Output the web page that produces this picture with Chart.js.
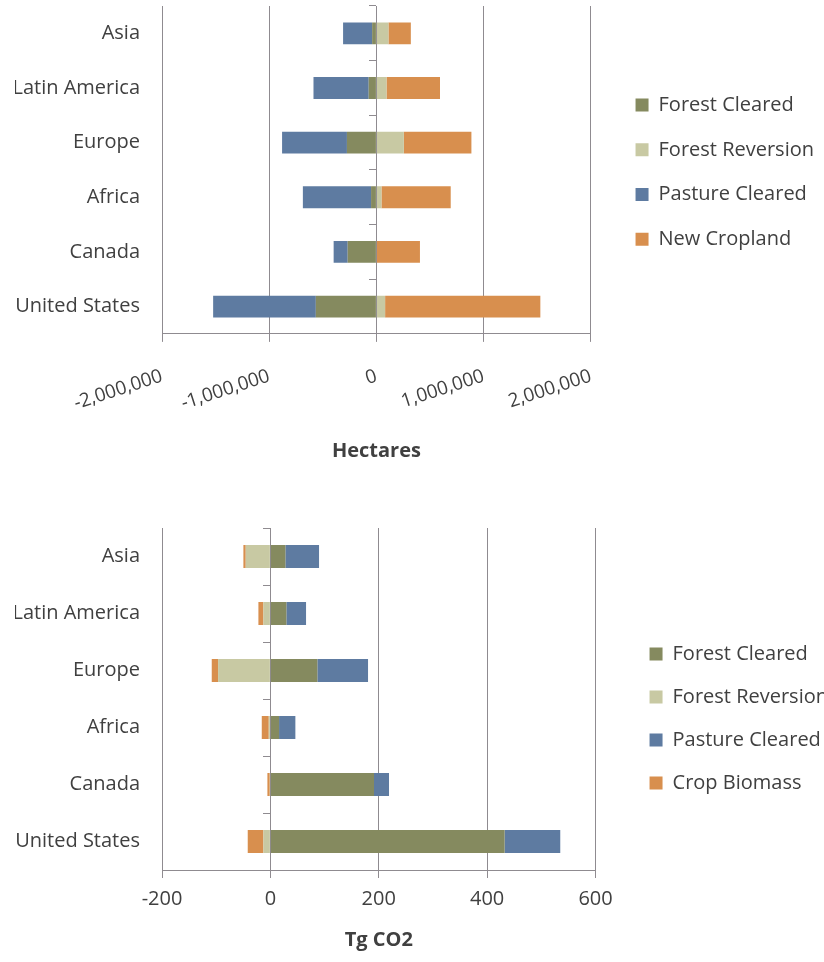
<!DOCTYPE html>
<html>
<head>
<meta charset="utf-8">
<script src="https://cdn.jsdelivr.net/npm/chart.js@4"></script>
<style>
  html, body { margin: 0; padding: 0; background: #fff; overflow: hidden; }
  canvas { display: block; }
</style>
</head>
<body>
<canvas id="areaChart" width="824" height="470"></canvas>
<canvas id="carbonChart" width="838" height="492"></canvas>
<script>
// categories, top to bottom
const regions = ["Asia", "Latin America", "Europe", "Africa", "Canada", "United States"];

// Land use change, hectares
const haForestCleared   = [-40000, -72000, -275000, -50000, -268000, -565000];
const haForestReversion = [112000, 94000, 256000, 47000, 0, 81000];
const haPastureCleared  = [-271000, -515000, -605000, -636000, -131000, -958000];
const haNewCropland     = [209000, 499000, 630000, 646000, 406000, 1448000];
const hectareTicks = [-2000000, -1000000, 0, 1000000, 2000000];

// Emissions, Tg CO2
const co2ForestCleared   = [27.7, 29.5, 86.7, 16, 191.2, 432.2];
const co2ForestReversion = [-45.5, -12.9, -96.5, -3, -1.2, -12.9];
const co2PastureCleared  = [62.1, 36.3, 93.5, 30.1, 27.7, 102.7];
const co2CropBiomass     = [-4.3, -9.2, -11.7, -12.9, -4.3, -28.9];
const co2Ticks = [-200, 0, 200, 400, 600];

const OLIVE = "#858a5f", PALE = "#c8c9a3", BLUE = "#5e7ba1", ORANGE = "#d88f4e";
const GRID = "#8f8b90";

Chart.defaults.font.family = '"Open Sans", sans-serif';
Chart.defaults.color = "#404040";

function bars(label, data, color) {
  return {
    label: label,
    data: data,
    backgroundColor: color,
    borderWidth: 0,
    barPercentage: 0.4,
    categoryPercentage: 1,
    xAxisID: "x",
    yAxisID: "y"
  };
}

// y axis: region names on the left, tick marks along the zero line, spacer before legend
function yScales(gap) {
  return {
    y: {
      stacked: true,
      grid: { display: false, drawTicks: false },
      border: { display: false },
      ticks: { padding: 22, font: { size: 20 } },
      afterFit: function (s) {
        s.width = 147;
        s.paddingTop = 0;
        s.paddingBottom = 0;
      }
    },
    zeroAxis: {
      type: "category",
      axis: "y",
      labels: regions,
      position: { x: 0 },
      offset: true,
      grid: { drawOnChartArea: false, tickLength: 7, color: GRID, offset: true },
      border: { display: false },
      ticks: { display: false }
    },
    spacer: {
      type: "linear",
      position: "right",
      grid: { display: false, drawTicks: false },
      border: { display: false },
      ticks: { display: false },
      afterFit: function (s) { s.width = gap; }
    }
  };
}

function legendOpts(spacing, offset) {
  return {
    position: "right",
    align: "start",
    maxWidth: 320,
    title: { display: true, text: "", padding: { top: offset, bottom: 0 } },
    labels: { boxWidth: 13, boxHeight: 13, padding: spacing, font: { size: 20 } }
  };
}

new Chart(document.getElementById("areaChart"), {
  type: "bar",
  data: {
    labels: regions,
    datasets: [
      bars("Forest Cleared", haForestCleared, OLIVE),
      bars("Forest Reversion", haForestReversion, PALE),
      bars("Pasture Cleared", haPastureCleared, BLUE),
      bars("New Cropland", haNewCropland, ORANGE)
    ]
  },
  options: {
    indexAxis: "y",
    responsive: false,
    animation: false,
    layout: { padding: { top: 6, left: 15, right: 0, bottom: 3 } },
    plugins: { legend: legendOpts(24.7, 50), tooltip: { enabled: false } },
    scales: Object.assign({
      x: {
        type: "linear",
        stacked: true,
        min: hectareTicks[0],
        max: hectareTicks[hectareTicks.length - 1],
        ticks: {
          stepSize: hectareTicks[1] - hectareTicks[0],
          minRotation: 18,
          maxRotation: 18,
          padding: 23,
          font: { size: 19 },
          callback: v => v.toLocaleString("en-US")
        },
        grid: { color: GRID, tickLength: 8 },
        border: { color: GRID },
        title: { display: true, text: "Hectares", font: { size: 20, weight: "bold" }, padding: { top: 1, bottom: 4 } }
      }
    }, yScales(20))
  }
});

new Chart(document.getElementById("carbonChart"), {
  type: "bar",
  data: {
    labels: regions,
    datasets: [
      bars("Forest Cleared", co2ForestCleared, OLIVE),
      bars("Forest Reversion", co2ForestReversion, PALE),
      bars("Pasture Cleared", co2PastureCleared, BLUE),
      bars("Crop Biomass", co2CropBiomass, ORANGE)
    ]
  },
  options: {
    indexAxis: "y",
    responsive: false,
    animation: false,
    layout: { padding: { top: 58, left: 15, right: 0, bottom: 6 } },
    plugins: { legend: legendOpts(23, 78.6), tooltip: { enabled: false } },
    scales: Object.assign({
      x: {
        type: "linear",
        stacked: true,
        min: co2Ticks[0],
        max: co2Ticks[co2Ticks.length - 1],
        ticks: {
          stepSize: co2Ticks[1] - co2Ticks[0],
          maxRotation: 0,
          padding: 9,
          font: { size: 20 }
        },
        grid: { color: GRID, tickLength: 8 },
        border: { color: GRID },
        title: { display: true, text: "Tg CO2", font: { size: 20, weight: "bold" }, padding: { top: 8, bottom: 4 } }
      }
    }, yScales(31))
  }
});
</script>
</body>
</html>
